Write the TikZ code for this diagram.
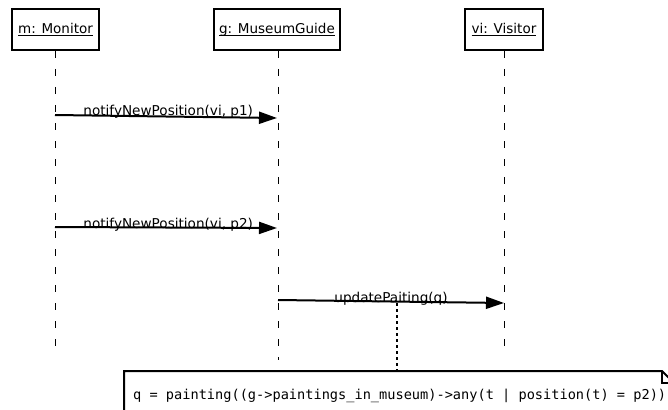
\documentclass[tikz,border=0pt]{standalone}
\usepackage{fontspec}
\setmainfont{DejaVu Sans}
\setsansfont{DejaVu Sans}
\setmonofont{DejaVu Sans Mono}
\usetikzlibrary{arrows.meta}
\newcommand{\ulbl}[1]{\setbox0\hbox{#1}\rlap{\rule[-2.6pt]{\wd0}{0.8pt}}\box0}
\tikzset{
  objbox/.style={draw, line width=2pt, minimum height=41pt, inner sep=0pt, font=\fontsize{13.5}{16}\selectfont},
  lifeline/.style={line width=1pt, dash pattern=on 7pt off 11pt},
  msg/.style={line width=2pt, -{Triangle[length=18pt,width=12pt]}, shorten >=0pt},
  lbl/.style={font=\fontsize{13.6}{16}\selectfont, anchor=base, inner sep=0pt},
  notebox/.style={line width=2pt},
  notelink/.style={line width=2.5pt, dash pattern=on 3pt off 3pt},
}
\begin{document}
\begin{tikzpicture}[x=1pt,y=-1pt]
\useasboundingbox (0,0) rectangle (668,409);
\clip (0,0) rectangle (668,409);
\fill[white] (0,0) rectangle (668,409);

% objects
\node[objbox, minimum width=87pt] (m) at (55.5,29.5) {\ulbl{m: Monitor}};
\node[objbox, minimum width=126pt] (g) at (277,29.5) {\ulbl{g: MuseumGuide}};
\node[objbox, minimum width=78pt] (vi) at (504,29.5) {\ulbl{vi: Visitor}};

% lifeline ends
\coordinate (mend) at (55,350);
\coordinate (gend) at (278,360);
\coordinate (vend) at (504,350);
\draw[lifeline] (m.south -| mend) -- (mend);
\draw[lifeline] (g.south -| gend) -- (gend);
\draw[lifeline] (vi.south -| vend) -- (vend);

% message points
\coordinate (m1) at (55,115);
\coordinate (g1) at (277,118);
\coordinate (m2) at (55,227);
\coordinate (g2) at (277,228);
\coordinate (g3) at (278,300);
\coordinate (v3) at (504,303);

\draw[msg] (m1) -- node[lbl, pos=0.51, yshift=1pt] {notifyNewPosition(vi, p1)} (g1);
\draw[msg] (m2) -- node[lbl, pos=0.51, yshift=-1pt] {notifyNewPosition(vi, p2)} (g2);
\draw[msg] (g3) -- node[lbl, pos=0.5, yshift=-1pt] (u) {updatePaiting(q)} (v3);

% note
\coordinate (ntl) at (124,371);
\coordinate (nfold) at (662,371);
\draw[notebox] (ntl) -- (nfold) -- (674,383) -- (674,430) -- (124,430) -- cycle;
\draw[line width=1.5pt] (nfold) -- (662,383) -- (674,383);
\node[anchor=base west, inner sep=0pt, font=\ttfamily\fontsize{13.62}{16}\selectfont] (nt) at (133,399)
  {q = painting((g->paintings\_in\_museum)->any(t | position(t) = p2))};

% note link
\coordinate (lk1) at (397,303);
\coordinate (lk2) at (397,371);
\draw[notelink] (lk1) -- (lk2);
\end{tikzpicture}
\end{document}
